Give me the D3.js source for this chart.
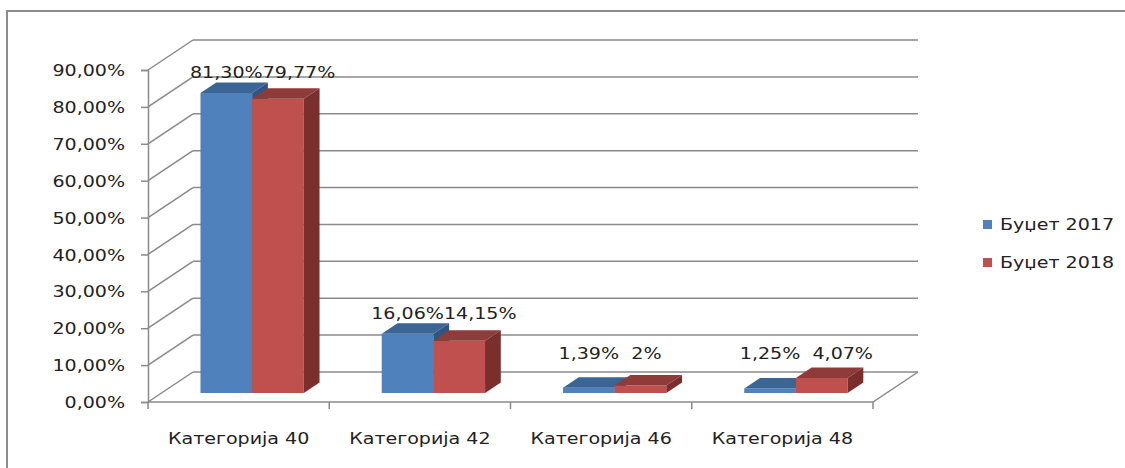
<!DOCTYPE html>
<html>
<head>
<meta charset="utf-8">
<script src="https://cdn.jsdelivr.net/npm/d3@7"></script>
<style>
  body { margin: 0; background: #fff; }
  text { font-family: "DejaVu Sans", Verdana, sans-serif; fill: #222; }
</style>
</head>
<body>
<svg id="chart" width="1125" height="468"></svg>
<script>
const categories = ["Категорија 40", "Категорија 42", "Категорија 46", "Категорија 48"];
const seriesNames = ["Буџет 2017", "Буџет 2018"];
const budget2017 = [81.30, 16.06, 1.39, 1.25];
const budget2018 = [79.77, 14.15, 2, 4.07];
const labels2017 = ["81,30%", "16,06%", "1,39%", "1,25%"];
const labels2018 = ["79,77%", "14,15%", "2%", "4,07%"];
const yTicks = [0, 10, 20, 30, 40, 50, 60, 70, 80, 90];

const colors = [
  { front: "#4f81bd", top: "#3b6595", side: "#2f5583" },
  { front: "#c0504d", top: "#8f3b39", side: "#7a2f2d" }
];

const svg = d3.select("#chart");
const gridColor = "#8a8a8a";
const stretch = 1.19; // text in the original is drawn wide

function label(parent, x, y, str, anchor) {
  return parent.append("text")
    .attr("transform", "translate(" + x + "," + y + ") scale(" + stretch + ",1)")
    .attr("text-anchor", anchor || "start")
    .attr("font-size", 16)
    .text(str);
}

// outer frame (only left and top edges are in the picture)
svg.append("path")
  .attr("d", "M7,468 L7,11 L1125,11")
  .attr("fill", "none").attr("stroke", "#8c8c8c").attr("stroke-width", 2);

const left = 148, right = 873;
const DX = 45, DY = 30; // depth offset of back wall

const y = d3.scaleLinear().domain([0, 90]).range([402, 70]);
const x0 = d3.scaleBand().domain(categories).range([left, right]);
const groupW = x0.bandwidth() * 0.57;
const x1 = d3.scaleBand().domain(seriesNames).range([0, groupW]);

const g = svg.append("g");

// side wall diagonals and back wall gridlines
yTicks.forEach(function (t) {
  g.append("line")
    .attr("x1", left).attr("y1", y(t))
    .attr("x2", left + DX).attr("y2", y(t) - DY)
    .attr("stroke", gridColor).attr("stroke-width", 1.5);
  g.append("line")
    .attr("x1", left + DX).attr("y1", y(t) - DY)
    .attr("x2", right + DX).attr("y2", y(t) - DY)
    .attr("stroke", gridColor).attr("stroke-width", 1.5);
});

// floor front edge and right edge
g.append("path")
  .attr("d", "M" + left + "," + y(0) + " L" + right + "," + y(0) + " L" + (right + DX) + "," + (y(0) - DY))
  .attr("fill", "none").attr("stroke", gridColor).attr("stroke-width", 1.5);

// y axis
const yAxis = svg.append("g")
  .attr("transform", "translate(" + left + ",0)")
  .call(d3.axisLeft(y).tickValues(yTicks).tickSize(7)
    .tickFormat(function (d) { return d3.format(".2f")(d).replace(".", ",") + "%"; }));
yAxis.select(".domain").attr("stroke", gridColor).attr("stroke-width", 1.5);
yAxis.selectAll(".tick line").attr("stroke", gridColor).attr("stroke-width", 1.5);
yAxis.selectAll(".tick text")
  .attr("x", 0).attr("dy", "0.35em")
  .attr("transform", "translate(-23,0) scale(" + stretch + ",1)")
  .attr("font-size", 16).attr("font-family", "DejaVu Sans").attr("fill", "#222");

// x axis ticks and labels
const xAxis = svg.append("g")
  .attr("transform", "translate(0," + y(0) + ")")
  .call(d3.axisBottom(x0).tickSize(0));
xAxis.select(".domain").remove();
xAxis.selectAll(".tick text")
  .attr("y", 0).attr("dy", 0)
  .attr("transform", "translate(0,42) scale(" + stretch + ",1)")
  .attr("font-size", 16).attr("font-family", "DejaVu Sans").attr("fill", "#222");
const catEdges = [left].concat(categories.map(function (c) { return x0(c) + x0.bandwidth(); }));
catEdges.forEach(function (e) {
  svg.append("line").attr("x1", e).attr("x2", e).attr("y1", y(0)).attr("y2", y(0) + 7)
    .attr("stroke", gridColor).attr("stroke-width", 1.5);
});

// bars
const d0 = 0.3, d1 = 0.65;
const seriesValues = [budget2017, budget2018];
const seriesLabels = [labels2017, labels2018];
const bars = g.append("g");
categories.forEach(function (c, i) {
  const gx = x0(c) + (x0.bandwidth() - groupW) / 2;
  seriesNames.forEach(function (s, k) {
    const v = seriesValues[k][i];
    const xa = gx + x1(s) + d0 * DX, xb = xa + x1.bandwidth();
    const yb = y(0) - d0 * DY, yt = y(v) - d0 * DY;
    const ddx = (d1 - d0) * DX, ddy = (d1 - d0) * DY;
    bars.append("polygon")
      .attr("points", [[xa, yb], [xb, yb], [xb, yt], [xa, yt]].join(" "))
      .attr("fill", colors[k].front);
    bars.append("polygon")
      .attr("points", [[xa, yt], [xb, yt], [xb + ddx, yt - ddy], [xa + ddx, yt - ddy]].join(" "))
      .attr("fill", colors[k].top);
    bars.append("polygon")
      .attr("points", [[xb, yb], [xb + ddx, yb - ddy], [xb + ddx, yt - ddy], [xb, yt]].join(" "))
      .attr("fill", colors[k].side);
  });
});

// data labels
categories.forEach(function (c, i) {
  const gx = x0(c) + (x0.bandwidth() - groupW) / 2;
  const top = Math.max(budget2017[i], budget2018[i]);
  const ly = Math.min(y(top) - d0 * DY - 15, y(0) - d0 * DY - 34);
  seriesNames.forEach(function (s, k) {
    const cx = gx + x1(s) + x1.bandwidth() / 2 + d0 * DX + (k === 1 ? (seriesValues[k][i] < 3 ? 6 : 21) : 0);
    label(svg, cx, ly, seriesLabels[k][i], "middle");
  });
});

// legend
const legend = svg.append("g").attr("transform", "translate(983,0)");
seriesNames.forEach(function (s, k) {
  const ly = 224 + k * 38;
  legend.append("rect").attr("x", 0).attr("y", ly - 4).attr("width", 9).attr("height", 9)
    .attr("fill", colors[k].front);
  label(legend, 17, ly + 6, s);
});
</script>
</body>
</html>
